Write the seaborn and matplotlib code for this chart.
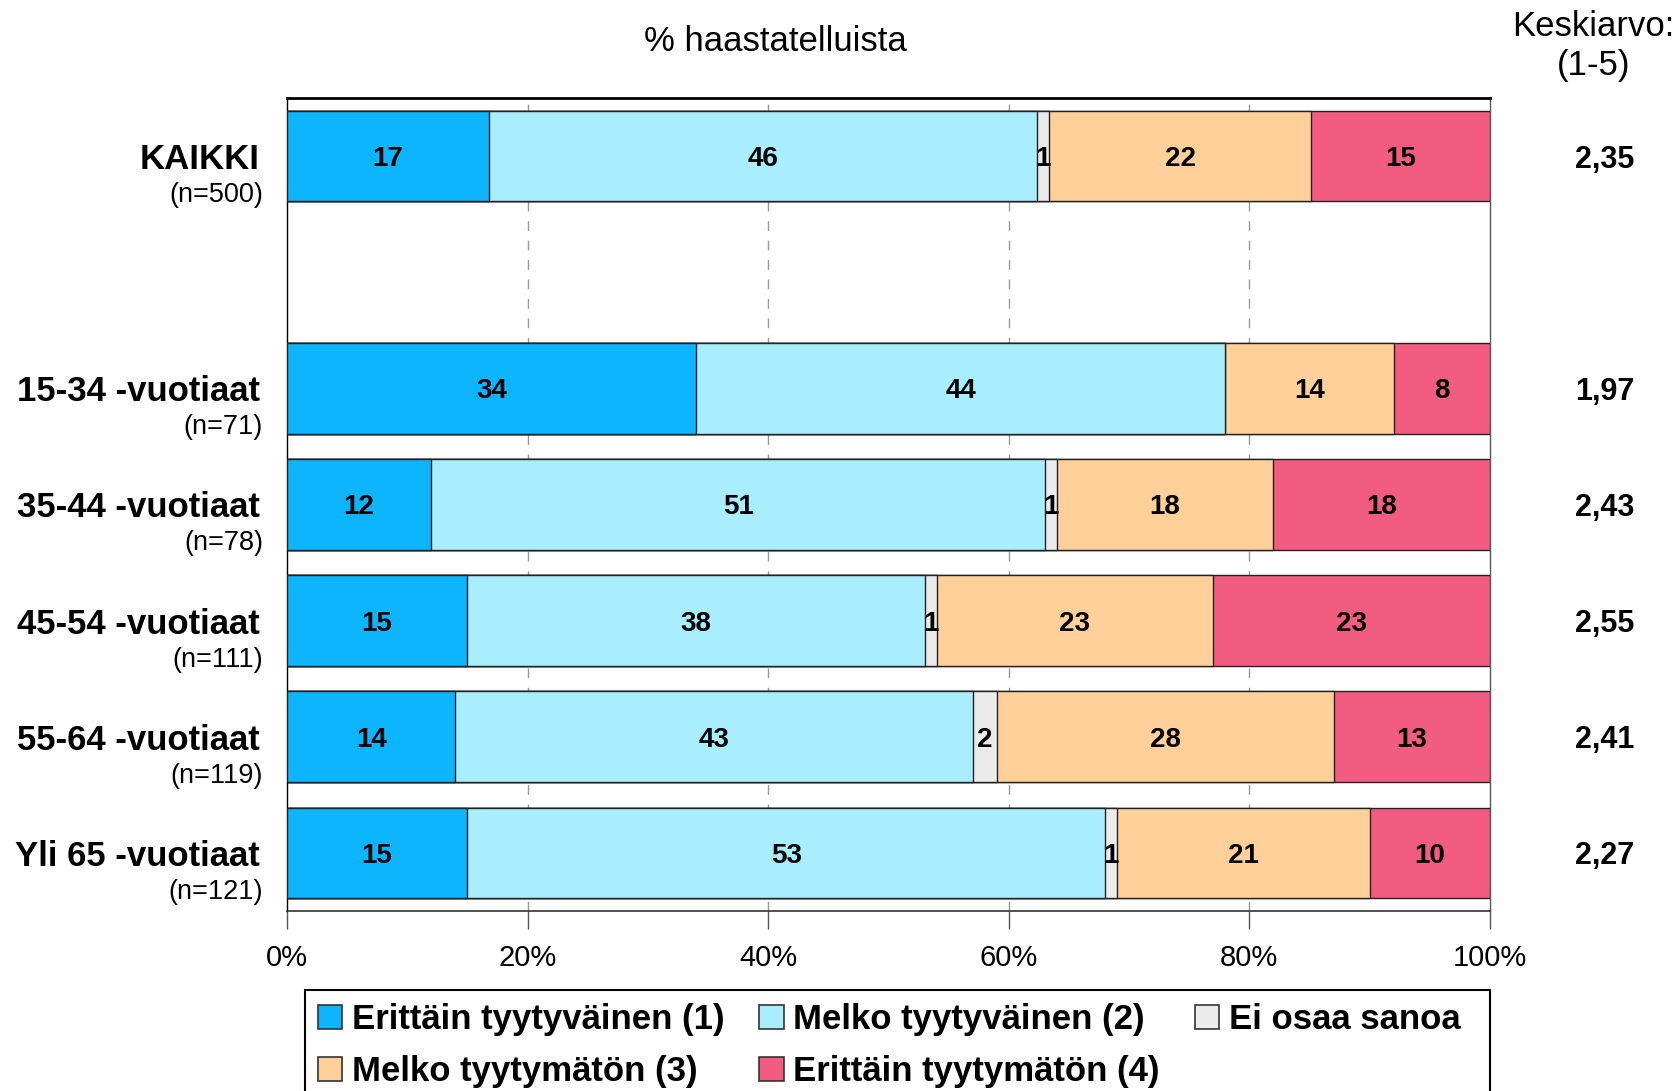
"""
Tyytyvaisyys ikaryhmittain - pinottu vaakapylvaskuvio (% haastatelluista)
"""
import matplotlib
matplotlib.use("Agg")
import matplotlib.pyplot as plt
import numpy as np
import pandas as pd
import seaborn as sns
from matplotlib.patches import Rectangle

sns.set_theme(style="white")
plt.rcParams["font.family"] = ["Liberation Sans", "DejaVu Sans"]
plt.rcParams["text.color"] = "black"
plt.rcParams["xtick.color"] = "black"

# --- data ---
ryhmat = ["KAIKKI", "15-34 -vuotiaat", "35-44 -vuotiaat", "45-54 -vuotiaat",
          "55-64 -vuotiaat", "Yli 65 -vuotiaat"]
n_arvot = ["(n=500)", "(n=71)", "(n=78)", "(n=111)", "(n=119)", "(n=121)"]
luokat = ["Erittäin tyytyväinen (1)", "Melko tyytyväinen (2)", "Ei osaa sanoa",
          "Melko tyytymätön (3)", "Erittäin tyytymätön (4)"]
erittain_tyyt = [17, 34, 12, 15, 14, 15]
melko_tyyt = [46, 44, 51, 38, 43, 53]
ei_osaa = [1, 0, 1, 1, 2, 1]
melko_tyytym = [22, 14, 18, 23, 28, 21]
erittain_tyytym = [15, 8, 18, 23, 13, 10]
keskiarvot = ["2,35", "1,97", "2,43", "2,55", "2,41", "2,27"]

varit = ["#0DB5FF", "#A9EEFF", "#EBEBEB", "#FFD099", "#F25C80"]
TYHJA = "_tyhja"
jarjestys = [ryhmat[0], TYHJA] + ryhmat[1:]

# long format + kumulatiiviset osuudet (rivit normitetaan 100 %:iin)
arvot = np.array([erittain_tyyt, melko_tyyt, ei_osaa, melko_tyytym, erittain_tyytym],
                 dtype=float).T
osuus = arvot / arvot.sum(axis=1, keepdims=True) * 100
kum = np.cumsum(osuus, axis=1)
rows = []
for i, g in enumerate(ryhmat):
    for j, c in enumerate(luokat):
        rows.append({"ryhma": g, "luokka": c, "arvo": arvot[i, j],
                     "kum": kum[i, j], "osuus": osuus[i, j]})
df = pd.DataFrame(rows)

fig = plt.figure(figsize=(16.79, 10.91), dpi=100)
ax = fig.add_axes([0.1709, 0.165, 0.7165, 0.7452])

# piirretaan kumulatiiviset palkit oikealta vasemmalle
for j in reversed(range(len(luokat))):
    sub = df[df["luokka"] == luokat[j]]
    sns.barplot(data=sub, x="kum", y="ryhma", order=jarjestys, orient="h",
                color=varit[j], saturation=1, width=0.78, errorbar=None,
                edgecolor="#222222", linewidth=1.0, ax=ax, zorder=3)

ypos = {g: jarjestys.index(g) for g in ryhmat}

# arvot palkkien sisaan
for _, r in df.iterrows():
    if r["arvo"] <= 0:
        continue
    ax.text(r["kum"] - r["osuus"] / 2, ypos[r["ryhma"]], f"{int(r['arvo'])}",
            ha="center", va="center_baseline", fontsize=20, fontweight="bold",
            color="black", zorder=5)

# ryhmien nimet vasemmalle, keskiarvot oikealle
for g, n, m in zip(ryhmat, n_arvot, keskiarvot):
    y = ypos[g]
    ax.text(-0.0224, y, g, transform=ax.get_yaxis_transform(), ha="right",
            va="center_baseline", fontsize=25, fontweight="bold")
    ax.text(-0.02, y + 0.31, n, transform=ax.get_yaxis_transform(), ha="right",
            va="center_baseline", fontsize=19.5)
    ax.text(1.0956, y, m, transform=ax.get_yaxis_transform(), ha="center",
            va="center_baseline", fontsize=22, fontweight="bold")

ax.set_xlim(0, 100)
ax.set_ylim(6.5, -0.5)
ax.set_yticks([])
ax.set_xticks(np.arange(0, 101, 20))
ax.set_xticklabels([f"{t}%" for t in range(0, 101, 20)], fontsize=21)
ax.tick_params(axis="x", direction="out", length=13, width=1, color="#555555",
               pad=11, bottom=True)
ax.set_xlabel("")
ax.set_ylabel("")
for x in [20, 40, 60, 80]:
    ax.axvline(x, color="#999999", lw=1, ls=(0, (7, 7)), zorder=1)

ax.spines["left"].set_color("black")
ax.spines["left"].set_linewidth(1.0)
ax.spines["bottom"].set_color("#333333")
ax.spines["bottom"].set_linewidth(1.2)
ax.spines["top"].set_color("black")
ax.spines["top"].set_linewidth(2.0)
ax.spines["right"].set_color("#555555")
ax.spines["right"].set_linewidth(1.0)

fig.text(0.4616, 0.9624, "% haastatelluista", ha="center", va="center", fontsize=25)
fig.text(0.949, 0.976, "Keskiarvo:", ha="center", va="center", fontsize=25)
fig.text(0.949, 0.940, "(1-5)", ha="center", va="center", fontsize=25)

# selite: rivi 1 = (1), (2), Ei osaa; rivi 2 = (3), (4)
kahvat = [Rectangle((0, 0), 1, 1, facecolor=varit[k], edgecolor="#333333", lw=1.2)
          for k in range(5)]
jarj = [0, 3, 1, 4, 2]
fig.legend([kahvat[k] for k in jarj], [luokat[k] for k in jarj], ncol=3,
           loc="upper left", bbox_to_anchor=(318 / 1679, 1 - 1003 / 1091),
           borderaxespad=0, borderpad=0, frameon=False,
           prop={"size": 25, "weight": "bold"}, handlelength=0.7,
           handleheight=0.7, handletextpad=0.28, labelspacing=0.55,
           columnspacing=1.0)
# selitteen kehys jatkuu kuvan alareunan yli
fig.patches.append(Rectangle((305 / 1679, -0.05), (1490 - 305) / 1679, 0.05 + 1 - 990 / 1091,
                             transform=fig.transFigure, fill=False,
                             edgecolor="black", lw=1.5))

fig.savefig("out.png", dpi=100)
